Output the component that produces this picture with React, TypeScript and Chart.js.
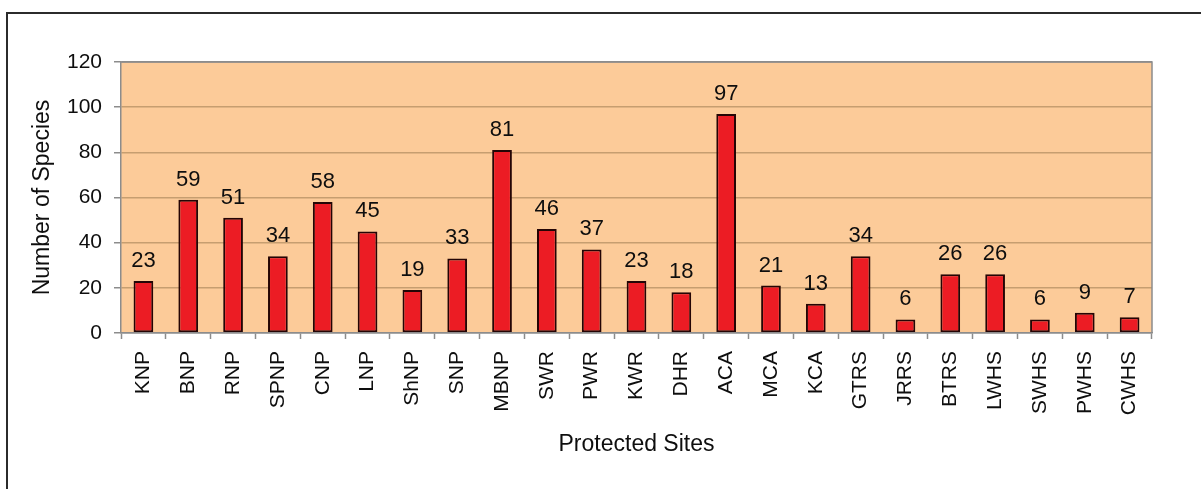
import { useEffect, useRef } from "react";
import { Chart, registerables } from "chart.js";

Chart.register(...registerables);

// Number of species recorded at each protected site
const sites = [
  "KNP", "BNP", "RNP", "SPNP", "CNP", "LNP", "ShNP", "SNP", "MBNP", "SWR", "PWR", "KWR",
  "DHR", "ACA", "MCA", "KCA", "GTRS", "JRRS", "BTRS", "LWHS", "SWHS", "PWHS", "CWHS",
];
const speciesCounts = [
  23, 59, 51, 34, 58, 45, 19, 33, 81, 46, 37, 23, 18, 97, 21, 13, 34, 6, 26, 26, 6, 9, 7,
];
const yMin = 0;
const yMax = 120;
const yStep = 20;

const FONT = "'Liberation Sans', Arial, Helvetica, sans-serif";
const TEXT = "#0e0e0e";
const PANEL = "#FCCB99";
const GRID = "#C69E70";
const FRAME = "#8C8C8C";
const BAR = "#EC1C24";
const BAR_EDGE = "#240505";

export default function App() {
  const canvasRef = useRef<HTMLCanvasElement>(null);

  useEffect(() => {
    const canvas = canvasRef.current;
    if (!canvas) return;

    // orange plot panel behind the bars, with a grey frame on top/right
    const plotPanel = {
      id: "plotPanel",
      beforeDraw(chart: any) {
        const { ctx, chartArea: a } = chart;
        ctx.save();
        ctx.fillStyle = PANEL;
        ctx.fillRect(a.left, a.top, a.right - a.left, a.bottom - a.top);
        ctx.restore();
      },
      afterDraw(chart: any) {
        const { ctx, chartArea: a } = chart;
        ctx.save();
        ctx.strokeStyle = FRAME;
        ctx.lineWidth = 1.5;
        ctx.beginPath();
        ctx.moveTo(a.left, a.top);
        ctx.lineTo(a.right, a.top);
        ctx.lineTo(a.right, a.bottom);
        ctx.stroke();
        ctx.restore();
      },
    };

    // value printed above every bar
    const valueLabels = {
      id: "valueLabels",
      afterDatasetsDraw(chart: any) {
        const { ctx } = chart;
        const meta = chart.getDatasetMeta(0);
        ctx.save();
        ctx.font = `22px ${FONT}`;
        ctx.fillStyle = TEXT;
        ctx.textAlign = "center";
        ctx.textBaseline = "alphabetic";
        meta.data.forEach((bar: any, i: number) => {
          ctx.fillText(String(speciesCounts[i]), bar.x, bar.y - 14);
        });
        ctx.restore();
      },
    };

    const chart = new Chart(canvas, {
      type: "bar",
      data: {
        labels: sites,
        datasets: [
          {
            data: speciesCounts,
            backgroundColor: BAR,
            borderColor: BAR_EDGE,
            borderWidth: 2,
            borderSkipped: false,
            barPercentage: 0.44,
            categoryPercentage: 1,
          },
        ],
      },
      options: {
        responsive: false,
        animation: false,
        layout: { padding: { top: 62, right: 49, left: 0, bottom: 0 } },
        plugins: {
          legend: { display: false },
          tooltip: { enabled: false },
        },
        scales: {
          x: {
            grid: {
              display: true,
              drawOnChartArea: false,
              drawTicks: true,
              tickLength: 6,
              tickColor: FRAME,
              tickWidth: 1.5,
              offset: true,
            },
            border: { color: FRAME, width: 1.5, z: 1 },
            ticks: {
              minRotation: 90,
              maxRotation: 90,
              autoSkip: false,
              padding: 12,
              color: TEXT,
              font: { family: FONT, size: 21 },
            },
            title: {
              display: true,
              text: "Protected Sites",
              color: TEXT,
              font: { family: FONT, size: 23 },
              padding: { top: 0, bottom: 31 },
            },
            afterFit(scale: any) {
              scale.height = 156;
            },
          },
          y: {
            min: yMin,
            max: yMax,
            ticks: {
              stepSize: yStep,
              padding: 12,
              color: TEXT,
              font: { family: FONT, size: 21 },
            },
            grid: {
              color: (c: any) =>
                c.tick && (c.tick.value === yMin || c.tick.value === yMax) ? FRAME : GRID,
              lineWidth: 1.5,
              tickColor: FRAME,
              tickLength: 7,
            },
            border: { color: FRAME, width: 1.5 },
            title: {
              display: true,
              text: "Number of Species",
              color: TEXT,
              font: { family: FONT, size: 23 },
              padding: { top: 29, bottom: 0 },
            },
            afterFit(scale: any) {
              scale.width = 121;
            },
          },
        },
      },
      plugins: [plotPanel, valueLabels],
    });

    return () => chart.destroy();
  }, []);

  return (
    <div
      style={{
        position: "fixed",
        left: 0,
        top: 0,
        width: 1201,
        height: 489,
        background: "#ffffff",
        overflow: "hidden",
      }}
    >
      <canvas ref={canvasRef} width={1201} height={489} style={{ display: "block" }} />
      <div
        style={{
          position: "absolute",
          left: 6,
          top: 12,
          width: 1400,
          height: 700,
          borderLeft: "2px solid #2b2b2b",
          borderTop: "2px solid #2b2b2b",
          pointerEvents: "none",
        }}
      />
    </div>
  );
}
